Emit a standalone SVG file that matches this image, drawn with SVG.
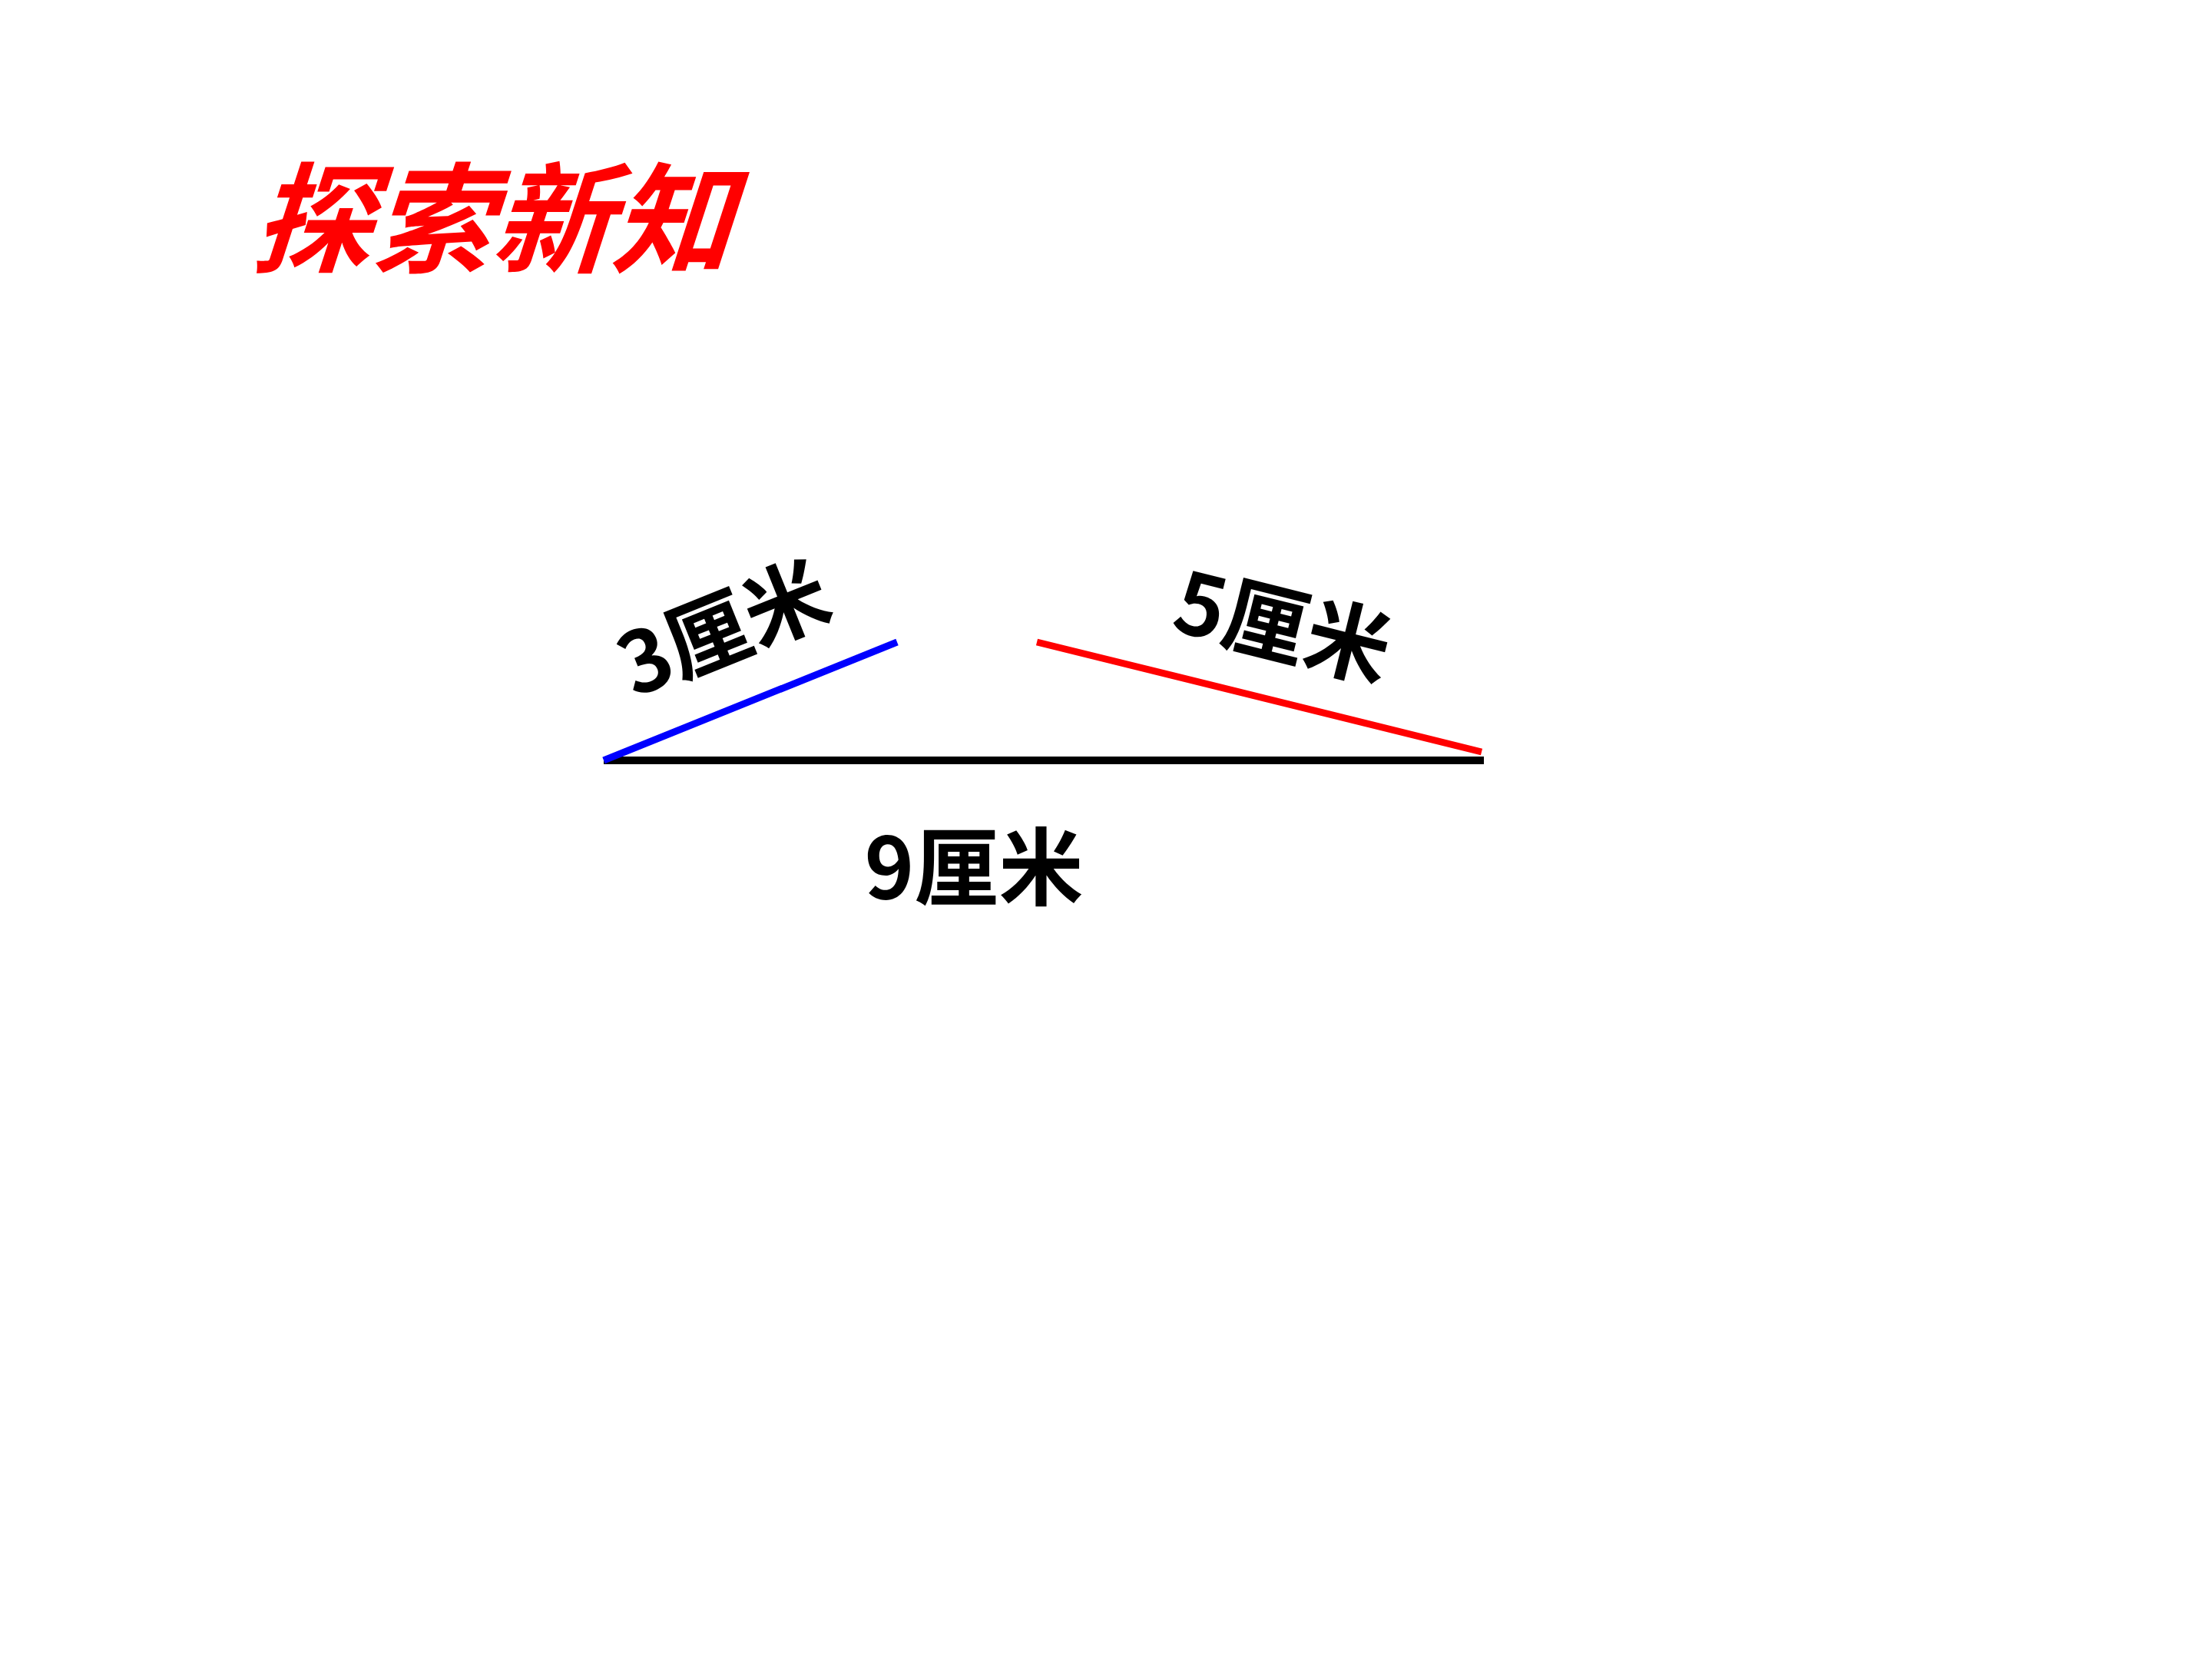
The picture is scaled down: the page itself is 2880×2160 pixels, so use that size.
<svg xmlns="http://www.w3.org/2000/svg" width="2880" height="2160" viewBox="0 0 2880 2160">
<style>
.lbl{font-family:"Noto Sans CJK SC","Noto Sans",sans-serif;font-weight:bold;font-size:110px;fill:#000}
.title{font-family:"Noto Sans CJK SC",sans-serif;font-weight:bold;font-size:156px;fill:#ff0000}
</style>
<rect width="2880" height="2160" fill="#fff"/>
<g id="title"><text class="title" transform="translate(326,343) skewX(-18)">探索新知</text></g>
<g id="connectors">
<line x1="786" y1="990" x2="1932" y2="990" stroke="#000" stroke-width="10"/>
<line x1="786" y1="990" x2="1168" y2="836" stroke="#0000ff" stroke-width="9"/>
<line x1="1350" y1="836" x2="1929" y2="979" stroke="#ff0000" stroke-width="9"/>
</g>
<g id="label-9"><text class="lbl" x="1268" y="1170" text-anchor="middle">9厘米</text></g>
<g id="label-3"><text class="lbl" transform="translate(943,820) rotate(-22)" text-anchor="middle" dy="38">3厘米</text></g>
<g id="label-5"><text class="lbl" transform="translate(1670,817) rotate(14)" text-anchor="middle" dy="38">5厘米</text></g>
</svg>
